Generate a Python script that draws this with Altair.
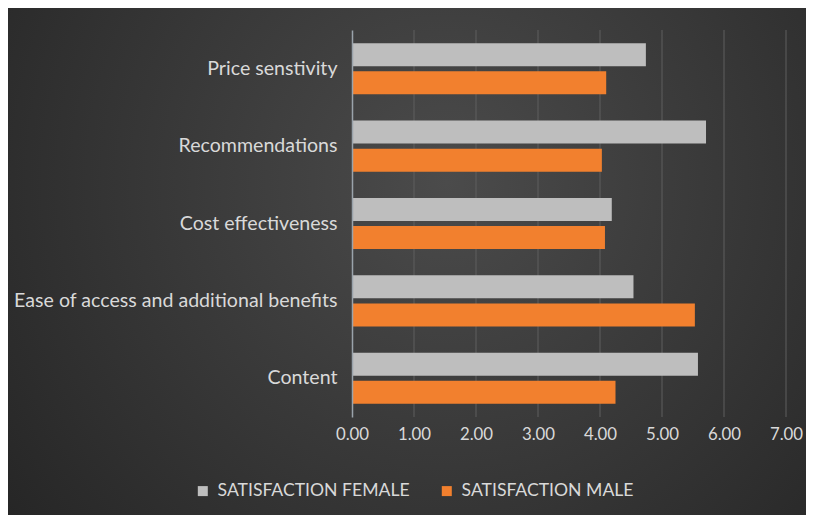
import altair as alt
import pandas as pd

categories = ["Price senstivity", "Recommendations", "Cost effectiveness",
              "Ease of access and additional benefits", "Content"]
female = [4.74, 5.71, 4.19, 4.54, 5.58]
male = [4.10, 4.03, 4.08, 5.53, 4.25]
series = ["SATISFACTION FEMALE", "SATISFACTION MALE"]
x_ticks = [0, 1, 2, 3, 4, 5, 6, 7]

rows = []
for c, f, m in zip(categories, female, male):
    rows.append({"category": c, "series": series[0], "value": f})
    rows.append({"category": c, "series": series[1], "value": m})
df = pd.DataFrame(rows)

W, H = 434, 387
PL, PT, PR, PB = 344, 22, 20, 98
FONT = "Lato"
TXT = "#d9d9d9"

xscale = alt.Scale(domain=[0, 7], nice=False, zero=True)
xaxis = alt.Axis(title=None, values=x_ticks, format=".2f",
                 labelFont=FONT, labelFontSize=16.8, labelColor=TXT,
                 labelPadding=9, labelFlush=False, labelOverlap=False,
                 ticks=False, domain=False, grid=False, zindex=1)

bg = alt.Chart(pd.DataFrame({"k": [0]})).mark_rect(
    fill=alt.RadialGradient(
        gradient="radial", x1=0.55, y1=0.4, r1=0, x2=0.55, y2=0.4, r2=0.75,
        stops=[alt.GradientStop(color="#4b4b4b", offset=0),
               alt.GradientStop(color="#232323", offset=1)]),
    strokeWidth=0,
).encode(
    x=alt.value(-PL), x2=alt.value(W + PR),
    y=alt.value(-PT), y2=alt.value(H + PB),
)

grid = alt.Chart(pd.DataFrame({"t": x_ticks[1:]})).mark_rule(
    color="#5e5e5e", strokeWidth=1
).encode(x=alt.X("t:Q", scale=xscale, axis=xaxis))

bars = alt.Chart(df).mark_bar().encode(
    y=alt.Y("category:N", sort=categories,
            scale=alt.Scale(paddingInner=0.34, paddingOuter=0.17),
            axis=alt.Axis(title=None, labelFont=FONT, labelFontSize=19.6,
                          labelColor=TXT, labelPadding=15, ticks=False,
                          domain=True, domainColor="#9aa3ab", domainWidth=1.5,
                          grid=False, zindex=1, labelLimit=400)),
    yOffset=alt.YOffset("series:N", sort=series,
                        scale=alt.Scale(paddingInner=0.18)),
    x=alt.X("value:Q", scale=xscale, axis=xaxis),
    color=alt.Color("series:N",
                    scale=alt.Scale(domain=series, range=["#bebebe", "#f2802e"]),
                    legend=alt.Legend(title=None, orient="none", legendX=-158,
                                      legendY=452, direction="horizontal",
                                      symbolType="square", symbolSize=100,
                                      symbolStrokeWidth=0, labelFont=FONT,
                                      labelFontSize=17.6, labelColor=TXT,
                                      columnPadding=28, labelOffset=6,
                                      labelLimit=400, padding=0)),
)

chart = alt.layer(bg, grid, bars).properties(
    width=W, height=H,
    padding={"left": PL, "top": PT, "right": PR, "bottom": PB},
    autosize=alt.AutoSizeParams(type="none"),
    background="#2a2a2a",
).configure_view(stroke=None)

chart.save("out.html", embed_options={"renderer": "svg", "actions": False})
